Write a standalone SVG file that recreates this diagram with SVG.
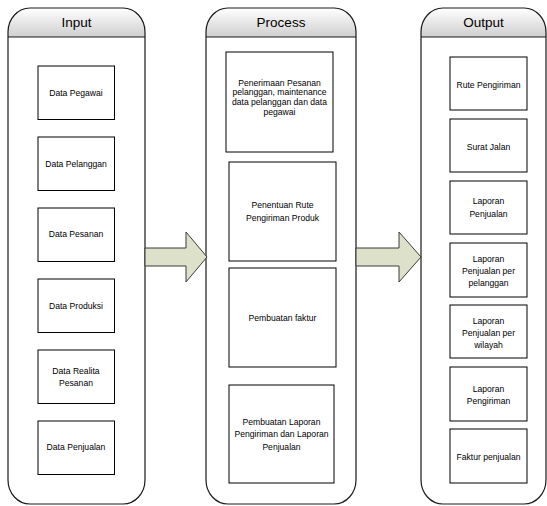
<svg xmlns="http://www.w3.org/2000/svg" width="547" height="506" viewBox="0 0 547 506">
<defs>
<linearGradient id="hdr" x1="0" y1="0" x2="0" y2="1">
<stop offset="0" stop-color="#ffffff"/>
<stop offset="1" stop-color="#cfcfcf"/>
</linearGradient>
<style>
.col{fill:none;stroke:#1a1a1a;stroke-width:1.2}
.hdr{fill:url(#hdr);stroke:none}
.hl{stroke:#1a1a1a;stroke-width:1.2}
.ht{font-family:"Liberation Sans",Arial,sans-serif;font-size:13.5px;fill:#000;text-anchor:middle}
.box{fill:#fff;stroke:#000;stroke-width:1}
.t{font-family:"Liberation Sans",Arial,sans-serif;font-size:8.6px;fill:#000;text-anchor:middle}
.arr{fill:#dde1c9;stroke:#3a3a3a;stroke-width:1}
</style>
</defs>
<rect width="547" height="506" fill="#fff"/>

<g id="col-input">
<path class="hdr" d="M8,37 L8,32 A22,24 0 0 1 30,8 L123,8 A22,24 0 0 1 145,32 L145,37 Z"/>
<rect class="col" x="8" y="8" width="137" height="496" rx="22" ry="24"/>
<line class="hl" x1="8" y1="37" x2="145" y2="37"/>
<text class="ht" x="76.5" y="27">Input</text>
</g>

<g id="col-process">
<path class="hdr" d="M206,37 L206,32 A22,24 0 0 1 228,8 L334,8 A22,24 0 0 1 356,32 L356,37 Z"/>
<rect class="col" x="206" y="8" width="150" height="496" rx="22" ry="24"/>
<line class="hl" x1="206" y1="37" x2="356" y2="37"/>
<text class="ht" x="281" y="27">Process</text>
</g>

<g id="col-output">
<path class="hdr" d="M421,37 L421,32 A22,24 0 0 1 443,8 L524,8 A22,24 0 0 1 546,32 L546,37 Z"/>
<rect class="col" x="421" y="8" width="125" height="496" rx="22" ry="24"/>
<line class="hl" x1="421" y1="37" x2="546" y2="37"/>
<text class="ht" x="483.5" y="27">Output</text>
</g>

<g id="connectors">
<path class="arr" d="M145,248 L186,248 L186,232 L207,257 L186,282 L186,266 L145,266 Z"/>
<path class="arr" d="M356,248 L399,248 L399,232 L421,257 L399,282 L399,266 L356,266 Z"/>
</g>

<g id="in1"><rect class="box" x="38" y="66" width="76.5" height="53.5"/><text class="t" x="76" y="96">Data Pegawai</text></g>
<g id="in2"><rect class="box" x="38" y="137" width="76.5" height="53.5"/><text class="t" x="76" y="167">Data Pelanggan</text></g>
<g id="in3"><rect class="box" x="38" y="208" width="76.5" height="53.5"/><text class="t" x="76" y="236.5">Data Pesanan</text></g>
<g id="in4"><rect class="box" x="38" y="279" width="76.5" height="53.5"/><text class="t" x="76" y="308.5">Data Produksi</text></g>
<g id="in5"><rect class="box" x="38" y="350" width="76.5" height="53.5"/><text class="t" x="76" y="373.5">Data Realita</text><text class="t" x="76" y="385.5">Pesanan</text></g>
<g id="in6"><rect class="box" x="38" y="421" width="76.5" height="53.5"/><text class="t" x="76" y="450">Data Penjualan</text></g>

<g id="p1"><rect class="box" x="226" y="52" width="107" height="100"/>
<text class="t" x="279.5" y="85.5">Penerimaan Pesanan</text>
<text class="t" x="279.5" y="95.3">pelanggan, maintenance</text>
<text class="t" x="279.5" y="105">data pelanggan dan data</text>
<text class="t" x="279.5" y="114.7">pegawai</text></g>
<g id="p2"><rect class="box" x="229" y="162" width="107" height="99"/>
<text class="t" x="282.5" y="207.5">Penentuan Rute</text>
<text class="t" x="282.5" y="220.5">Pengiriman Produk</text></g>
<g id="p3"><rect class="box" x="229" y="268" width="107" height="99"/>
<text class="t" x="282.5" y="320.5">Pembuatan faktur</text></g>
<g id="p4"><rect class="box" x="229" y="385" width="105" height="98"/>
<text class="t" x="281.5" y="425">Pembuatan Laporan</text>
<text class="t" x="281.5" y="437">Pengiriman dan Laporan</text>
<text class="t" x="281.5" y="449.5">Penjualan</text></g>

<g id="o1"><rect class="box" x="450" y="57" width="77" height="53"/><text class="t" x="488.5" y="88">Rute Pengiriman</text></g>
<g id="o2"><rect class="box" x="450" y="119" width="77" height="53"/><text class="t" x="488.5" y="150">Surat Jalan</text></g>
<g id="o3"><rect class="box" x="450" y="181" width="77" height="53"/><text class="t" x="488.5" y="204">Laporan</text><text class="t" x="488.5" y="216.5">Penjualan</text></g>
<g id="o4"><rect class="box" x="450" y="243" width="77" height="54"/><text class="t" x="488.5" y="261.5">Laporan</text><text class="t" x="488.5" y="273.8">Penjualan per</text><text class="t" x="488.5" y="286">pelanggan</text></g>
<g id="o5"><rect class="box" x="450" y="305" width="77" height="53"/><text class="t" x="488.5" y="323.5">Laporan</text><text class="t" x="488.5" y="335.8">Penjualan per</text><text class="t" x="488.5" y="348">wilayah</text></g>
<g id="o6"><rect class="box" x="450" y="367" width="77" height="54"/><text class="t" x="488.5" y="391.5">Laporan</text><text class="t" x="488.5" y="404">Pengiriman</text></g>
<g id="o7"><rect class="box" x="450" y="429" width="77" height="54"/><text class="t" x="488.5" y="460">Faktur penjualan</text></g>
</svg>
